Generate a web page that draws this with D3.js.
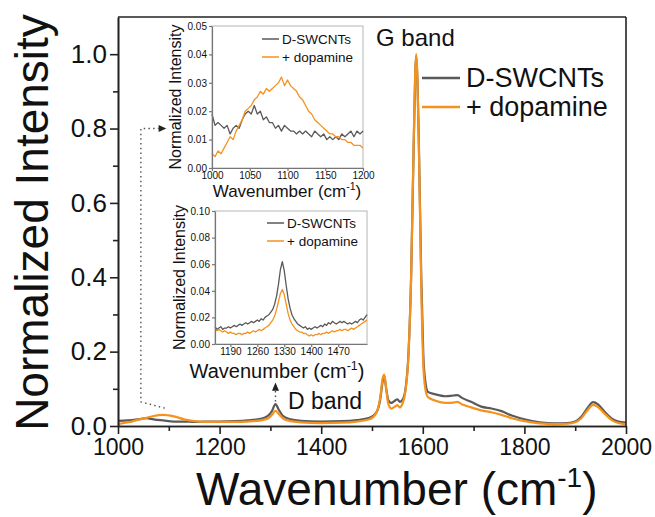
<!DOCTYPE html>
<html>
<head>
<meta charset="utf-8">
<script src="https://cdn.jsdelivr.net/npm/d3@7"></script>
<style>
  body { margin: 0; background: #fff; }
  svg { display: block; }
  text { font-family: "Liberation Sans", Arial, sans-serif; fill: #111; }
</style>
</head>
<body>
<svg id="chart" width="655" height="517"></svg>
<script>
// ---- Raman spectra, normalized to the G band ----
const seriesNames = ["D-SWCNTs", "+ dopamine"];
const seriesColors = ["#5a5a5a", "#f5921e"];

const wavenumber = [1000, 1020, 1040, 1056, 1070, 1089, 1110, 1130, 1150, 1170, 1200, 1230, 1255, 1280, 1295, 1303, 1310, 1316, 1325, 1340, 1360, 1400, 1440, 1470, 1495, 1508, 1516, 1521, 1524, 1528, 1532, 1538, 1545, 1550, 1555, 1560, 1566, 1572, 1577, 1582, 1587, 1592, 1597, 1601, 1605, 1610, 1625, 1645, 1660, 1668, 1678, 1695, 1715, 1735, 1755, 1775, 1800, 1830, 1860, 1885, 1900, 1912, 1925, 1935, 1945, 1958, 1972, 1985, 2000];
const dswcnts = [0.014, 0.015, 0.018, 0.021, 0.018, 0.015, 0.012, 0.012, 0.011, 0.012, 0.012, 0.013, 0.015, 0.019, 0.027, 0.040, 0.059, 0.045, 0.027, 0.018, 0.014, 0.012, 0.013, 0.016, 0.022, 0.035, 0.070, 0.120, 0.135, 0.100, 0.070, 0.062, 0.068, 0.072, 0.065, 0.070, 0.100, 0.200, 0.400, 0.750, 0.995, 0.780, 0.400, 0.190, 0.120, 0.092, 0.085, 0.080, 0.082, 0.083, 0.075, 0.065, 0.052, 0.047, 0.040, 0.028, 0.018, 0.010, 0.007, 0.008, 0.012, 0.025, 0.050, 0.064, 0.058, 0.038, 0.020, 0.012, 0.009];
const dopamine = [0.005, 0.010, 0.017, 0.022, 0.027, 0.030, 0.026, 0.018, 0.013, 0.011, 0.011, 0.011, 0.012, 0.015, 0.020, 0.030, 0.041, 0.033, 0.020, 0.013, 0.010, 0.008, 0.009, 0.012, 0.018, 0.034, 0.075, 0.128, 0.138, 0.100, 0.060, 0.047, 0.052, 0.056, 0.050, 0.060, 0.095, 0.195, 0.400, 0.760, 1.000, 0.770, 0.370, 0.165, 0.100, 0.078, 0.068, 0.062, 0.063, 0.065, 0.058, 0.050, 0.042, 0.037, 0.030, 0.021, 0.013, 0.007, 0.005, 0.006, 0.010, 0.021, 0.044, 0.057, 0.051, 0.033, 0.016, 0.008, 0.005];

const xTicks = [1000, 1200, 1400, 1600, 1800, 2000];
const xMinorTicks = [1100, 1300, 1500, 1700, 1900];
const yTicks = [0.0, 0.2, 0.4, 0.6, 0.8, 1.0];
const yMinorTicks = [0.1, 0.3, 0.5, 0.7, 0.9];

// ---- Inset: 1000-1200 cm-1 region ----
const inset1Wn = [1000, 1004, 1008, 1012, 1016, 1020, 1024, 1028, 1032, 1036, 1040, 1044, 1048, 1052, 1056, 1060, 1064, 1068, 1072, 1076, 1080, 1084, 1088, 1092, 1096, 1100, 1104, 1108, 1112, 1116, 1120, 1124, 1128, 1132, 1136, 1140, 1144, 1148, 1152, 1156, 1160, 1164, 1168, 1172, 1176, 1180, 1184, 1188, 1192, 1196, 1200];
const inset1Dswcnts = [0.019, 0.015, 0.016, 0.015, 0.014, 0.015, 0.012, 0.014, 0.015, 0.014, 0.017, 0.019, 0.020, 0.019, 0.022, 0.019, 0.020, 0.017, 0.018, 0.016, 0.016, 0.014, 0.015, 0.013, 0.015, 0.014, 0.013, 0.013, 0.012, 0.013, 0.012, 0.013, 0.012, 0.011, 0.013, 0.012, 0.011, 0.012, 0.010, 0.011, 0.010, 0.011, 0.010, 0.012, 0.011, 0.012, 0.013, 0.011, 0.013, 0.012, 0.013];
const inset1Dopamine = [0.005, 0.004, 0.006, 0.005, 0.007, 0.009, 0.011, 0.010, 0.013, 0.015, 0.017, 0.020, 0.021, 0.022, 0.024, 0.025, 0.027, 0.026, 0.028, 0.027, 0.028, 0.029, 0.030, 0.032, 0.029, 0.031, 0.029, 0.028, 0.027, 0.025, 0.024, 0.022, 0.020, 0.019, 0.017, 0.016, 0.015, 0.014, 0.013, 0.012, 0.012, 0.011, 0.011, 0.010, 0.010, 0.009, 0.009, 0.008, 0.008, 0.008, 0.007];
const inset1XTicks = [1000, 1050, 1100, 1150, 1200];
const inset1YTicks = [0.00, 0.01, 0.02, 0.03, 0.04, 0.05];

// ---- Inset: D band region ----
const inset2Wn = [1150, 1155, 1160, 1165, 1170, 1175, 1180, 1185, 1190, 1195, 1200, 1205, 1210, 1215, 1220, 1225, 1230, 1235, 1240, 1245, 1250, 1255, 1260, 1265, 1270, 1275, 1280, 1285, 1290, 1295, 1300, 1305, 1310, 1315, 1320, 1325, 1330, 1335, 1340, 1345, 1350, 1355, 1360, 1365, 1370, 1375, 1380, 1385, 1390, 1395, 1400, 1405, 1410, 1415, 1420, 1425, 1430, 1435, 1440, 1445, 1450, 1455, 1460, 1465, 1470, 1475, 1480, 1485, 1490, 1495, 1500, 1505, 1510, 1515, 1520, 1525, 1530, 1535, 1540, 1545];
const inset2Dswcnts = [0.013, 0.011, 0.012, 0.013, 0.011, 0.012, 0.012, 0.013, 0.012, 0.013, 0.014, 0.013, 0.014, 0.015, 0.014, 0.015, 0.016, 0.015, 0.016, 0.017, 0.016, 0.017, 0.018, 0.017, 0.019, 0.018, 0.020, 0.021, 0.022, 0.024, 0.026, 0.030, 0.036, 0.045, 0.056, 0.062, 0.055, 0.044, 0.034, 0.027, 0.022, 0.019, 0.017, 0.015, 0.014, 0.013, 0.012, 0.013, 0.011, 0.012, 0.011, 0.012, 0.013, 0.012, 0.013, 0.014, 0.013, 0.015, 0.014, 0.016, 0.015, 0.017, 0.016, 0.015, 0.016, 0.017, 0.016, 0.017, 0.016, 0.015, 0.016, 0.015, 0.016, 0.017, 0.016, 0.018, 0.019, 0.018, 0.020, 0.022];
const inset2Dopamine = [0.011, 0.010, 0.011, 0.010, 0.009, 0.010, 0.009, 0.008, 0.009, 0.008, 0.008, 0.007, 0.008, 0.008, 0.007, 0.008, 0.008, 0.009, 0.008, 0.009, 0.010, 0.009, 0.010, 0.011, 0.010, 0.011, 0.012, 0.013, 0.014, 0.016, 0.018, 0.021, 0.026, 0.032, 0.038, 0.041, 0.037, 0.030, 0.023, 0.018, 0.015, 0.013, 0.011, 0.010, 0.009, 0.009, 0.008, 0.008, 0.007, 0.006, 0.007, 0.006, 0.007, 0.007, 0.008, 0.007, 0.008, 0.008, 0.009, 0.008, 0.009, 0.010, 0.009, 0.010, 0.010, 0.011, 0.010, 0.011, 0.011, 0.010, 0.011, 0.012, 0.011, 0.012, 0.013, 0.014, 0.015, 0.016, 0.017, 0.018];
const inset2XTicks = [1190, 1260, 1330, 1400, 1470];
const inset2YTicks = [0.00, 0.02, 0.04, 0.06, 0.08, 0.10];

const svg = d3.select("#chart");
const FONT = '"Liberation Sans", Arial, sans-serif';

// ---- main plot ----
const plot = { left: 118, right: 626, top: 17, bottom: 426 };
const x = d3.scaleLinear().domain([1000, 2000]).range([plot.left, plot.right]);
const y = d3.scaleLinear().domain([0, 1.1]).range([plot.bottom, plot.top]);

const lineMain = (ys) => d3.line()
  .x((d, i) => x(wavenumber[i]))
  .y(d => y(d))
  .curve(d3.curveMonotoneX)(ys);

const main = svg.append("g");
[dswcnts, dopamine].forEach((s, k) => {
  main.append("path")
    .attr("d", lineMain(s))
    .attr("fill", "none")
    .attr("stroke", seriesColors[k])
    .attr("stroke-width", 2.2)
    .attr("stroke-linejoin", "round");
});

// frame: top and right borders
main.append("line").attr("x1", plot.left).attr("x2", plot.right)
  .attr("y1", plot.top).attr("y2", plot.top).attr("stroke", "#222").attr("stroke-width", 1.6);
main.append("line").attr("x1", plot.right).attr("x2", plot.right)
  .attr("y1", plot.top).attr("y2", plot.bottom).attr("stroke", "#222").attr("stroke-width", 1.6);

function styleAxis(g, color, width) {
  g.select(".domain").attr("stroke", color).attr("stroke-width", width);
  g.selectAll(".tick line").attr("stroke", color).attr("stroke-width", width);
  g.selectAll(".tick text").style("font-family", FONT).attr("fill", "#111");
}

const xAxisG = svg.append("g").attr("transform", `translate(0,${plot.bottom})`)
  .call(d3.axisBottom(x).tickValues(xTicks).tickFormat(d3.format("d")).tickSize(8).tickSizeOuter(0).tickPadding(5));
styleAxis(xAxisG, "#222", 1.6);
xAxisG.selectAll(".tick text").style("font-size", "23px");
svg.append("g").attr("transform", `translate(0,${plot.bottom})`)
  .call(d3.axisBottom(x).tickValues(xMinorTicks).tickFormat("").tickSize(5).tickSizeOuter(0))
  .call(g => styleAxis(g, "#222", 1.6));

const yAxisG = svg.append("g").attr("transform", `translate(${plot.left},0)`)
  .call(d3.axisLeft(y).tickValues(yTicks).tickFormat(d3.format(".1f")).tickSize(8).tickSizeOuter(0).tickPadding(3));
styleAxis(yAxisG, "#222", 1.6);
yAxisG.selectAll(".tick text").style("font-size", "26px");
svg.append("g").attr("transform", `translate(${plot.left},0)`)
  .call(d3.axisLeft(y).tickValues(yMinorTicks).tickFormat("").tickSize(5).tickSizeOuter(0))
  .call(g => styleAxis(g, "#222", 1.6));

// axis titles
svg.append("text")
  .attr("transform", `translate(48,${(plot.top + plot.bottom) / 2 + 1}) rotate(-90)`)
  .attr("text-anchor", "middle")
  .style("font-size", "46px")
  .text("Normalized Intensity");

const xTitle = svg.append("text")
  .attr("x", 196).attr("y", 505)
  .style("font-size", "46px");
xTitle.append("tspan").text("Wavenumber (cm");
xTitle.append("tspan").attr("dy", -18).style("font-size", "28px").text("-1");
xTitle.append("tspan").attr("dy", 18).text(")");

// band labels
svg.append("text").attr("x", 376).attr("y", 46).style("font-size", "24px").text("G band");
svg.append("text").attr("x", 288).attr("y", 409).style("font-size", "23px").text("D band");

// main legend
const legend = svg.append("g");
[78, 107].forEach((ly, k) => {
  legend.append("line").attr("x1", 422).attr("x2", 460).attr("y1", ly).attr("y2", ly)
    .attr("stroke", seriesColors[k]).attr("stroke-width", 2.5);
  legend.append("text").attr("x", 466).attr("y", ly + 9).style("font-size", "27px").text(seriesNames[k]);
});

// dotted pointer from the 1000-1200 region up to its inset
const dotted = [[x(1092), y(0.048)], [x(1045), y(0.065)], [x(1045), y(0.8)], [x(1080), y(0.8)]];
svg.append("path")
  .attr("d", d3.line()(dotted))
  .attr("fill", "none").attr("stroke", "#555").attr("stroke-width", 1.4)
  .attr("stroke-dasharray", "1.5,3.2");
svg.append("path")
  .attr("d", `M${x(1080)},${y(0.8) - 3.5} L${x(1095)},${y(0.8)} L${x(1080)},${y(0.8) + 3.5} Z`)
  .attr("fill", "#222");

// dotted pointer from the D band up to its inset
svg.append("line")
  .attr("x1", x(1310)).attr("x2", x(1310)).attr("y1", y(0.066)).attr("y2", y(0.095))
  .attr("stroke", "#555").attr("stroke-width", 1.4).attr("stroke-dasharray", "1.5,3");
svg.append("path")
  .attr("d", `M${x(1310) - 3.5},${y(0.095)} L${x(1310)},${y(0.117)} L${x(1310) + 3.5},${y(0.095)} Z`)
  .attr("fill", "#222");

// ---- insets ----
function drawInset(cfg) {
  const g = svg.append("g");
  const ix = d3.scaleLinear().domain(cfg.xDomain).range([cfg.left, cfg.right]);
  const iy = d3.scaleLinear().domain(cfg.yDomain).range([cfg.bottom, cfg.top]);

  g.append("rect").attr("x", cfg.left).attr("y", cfg.top)
    .attr("width", cfg.right - cfg.left).attr("height", cfg.bottom - cfg.top)
    .attr("fill", "#fff").attr("stroke", "#b5b5b5").attr("stroke-width", 1);

  cfg.series.forEach((s, k) => {
    g.append("path")
      .attr("d", d3.line().x((d, i) => ix(cfg.wn[i])).y(d => iy(d))(s))
      .attr("fill", "none").attr("stroke", seriesColors[k]).attr("stroke-width", 1.3)
      .attr("stroke-linejoin", "round");
  });

  const ax = g.append("g").attr("transform", `translate(0,${cfg.bottom})`)
    .call(d3.axisBottom(ix).tickValues(cfg.xTicks).tickFormat(d3.format("d")).tickSize(3).tickSizeOuter(0).tickPadding(1));
  styleAxis(ax, "#777", 1.2);
  ax.selectAll(".tick text").style("font-size", "10px").attr("fill", "#333");

  const ay = g.append("g").attr("transform", `translate(${cfg.left},0)`)
    .call(d3.axisLeft(iy).tickValues(cfg.yTicks).tickFormat(d3.format(".2f")).tickSize(3).tickSizeOuter(0).tickPadding(2));
  styleAxis(ay, "#777", 1.2);
  ay.selectAll(".tick text").style("font-size", "10px").attr("fill", "#333");

  // legend
  cfg.legendY.forEach((ly, k) => {
    g.append("line").attr("x1", cfg.legendX).attr("x2", cfg.legendX + 17).attr("y1", ly).attr("y2", ly)
      .attr("stroke", seriesColors[k]).attr("stroke-width", 1.5);
    g.append("text").attr("x", cfg.legendX + 20).attr("y", ly + 4.5)
      .style("font-size", "13.5px").attr("fill", "#222").text(seriesNames[k]);
  });

  // titles
  g.append("text")
    .attr("transform", `translate(${cfg.yTitleX},${(cfg.top + cfg.bottom) / 2}) rotate(-90)`)
    .attr("text-anchor", "middle").style("font-size", cfg.yTitleSize + "px").attr("fill", "#222")
    .text("Normalized Intensity");
  const t = g.append("text").attr("x", cfg.xTitleX).attr("y", cfg.xTitleY)
    .attr("text-anchor", "middle").style("font-size", cfg.xTitleSize + "px").attr("fill", "#111");
  t.append("tspan").text("Wavenumber (cm");
  t.append("tspan").attr("dy", -cfg.xTitleSize * 0.4).style("font-size", (cfg.xTitleSize * 0.62) + "px").text("-1");
  t.append("tspan").attr("dy", cfg.xTitleSize * 0.4).text(")");
}

drawInset({
  left: 212, right: 363, top: 26, bottom: 168,
  xDomain: [1000, 1200], yDomain: [0, 0.05],
  wn: inset1Wn, series: [inset1Dswcnts, inset1Dopamine],
  xTicks: inset1XTicks, yTicks: inset1YTicks,
  legendX: 262, legendY: [39, 57],
  yTitleX: 181, yTitleSize: 16,
  xTitleX: 287, xTitleY: 197, xTitleSize: 17
});

drawInset({
  left: 215, right: 367, top: 211, bottom: 344,
  xDomain: [1150, 1545], yDomain: [0, 0.10],
  wn: inset2Wn, series: [inset2Dswcnts, inset2Dopamine],
  xTicks: inset2XTicks, yTicks: inset2YTicks,
  legendX: 267, legendY: [223, 241],
  yTitleX: 185, yTitleSize: 16,
  xTitleX: 277, xTitleY: 378, xTitleSize: 20
});
</script>
</body>
</html>
